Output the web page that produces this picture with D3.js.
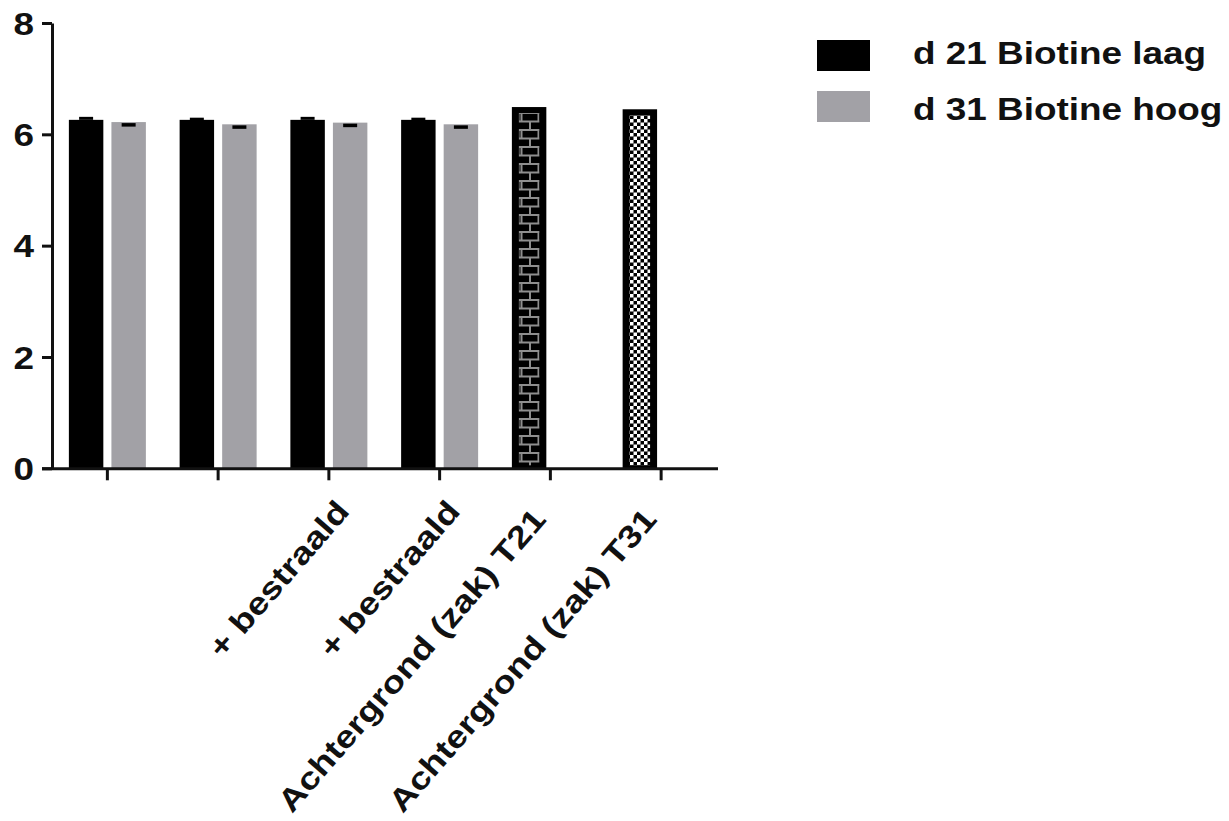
<!DOCTYPE html>
<html>
<head>
<meta charset="utf-8">
<script src="https://cdn.jsdelivr.net/npm/d3@7"></script>
<style>
  html, body { margin: 0; padding: 0; background: #fff; }
  svg text { font-family: "Liberation Sans", Arial, Helvetica, sans-serif; font-weight: bold; fill: #111; }
</style>
</head>
<body>
<svg id="chart" width="1229" height="821"></svg>
<script>
// Category labels (first two groups carry no label)
const categories = ["", "", "+ bestraald", "+ bestraald", "Achtergrond (zak) T21", "Achtergrond (zak) T31"];
const seriesNames = ["d 21 Biotine laag", "d 31 Biotine hoog"];
const seriesColors = ["#000000", "#a2a1a6"];

// Means
const laag = [6.26, 6.26, 6.26, 6.26, 6.49, 6.45];
const hoog = [6.22, 6.18, 6.21, 6.18, null, null];
// Error (SD)
const laagErr = [0.027, 0.012, 0.027, 0.012, 0, 0];
const hoogErr = [0.05, 0.05, 0.05, 0.05, 0, 0];
// Fill style of the first-series bar per group
const laagFill = ["solid", "solid", "solid", "solid", "brick", "checker"];

const yTicks = [0, 2, 4, 6, 8];

const svg = d3.select("#chart");
const textScale = 1.19;

const y = d3.scaleLinear().domain([0, 8]).range([468.3, 23]);
const x = d3.scaleBand().domain(d3.range(categories.length)).range([52, 716.5]).padding(0);
const xs = d3.scaleBand().domain([0, 1]).range([-38.5, 38.5]).paddingInner(0.19);

// Fill patterns for the background bars
const defs = svg.append("defs");
const brick = defs.append("pattern").attr("id", "brick")
  .attr("patternUnits", "userSpaceOnUse").attr("width", 20).attr("height", 17);
brick.append("rect").attr("width", 20).attr("height", 17).attr("fill", "#000");
const bp = brick.append("g").attr("stroke", "#8e8e8e").attr("stroke-width", 2).attr("fill", "none");
bp.append("path").attr("d", "M0,2.5H20M0,11H20");
bp.append("path").attr("d", "M10,2.5V11M1.5,11V19.5M18.5,11V19.5M1.5,-6V2.5M18.5,-6V2.5");

const checker = defs.append("pattern").attr("id", "checker")
  .attr("patternUnits", "userSpaceOnUse").attr("width", 7).attr("height", 7);
checker.append("rect").attr("width", 7).attr("height", 7).attr("fill", "#000");
checker.append("rect").attr("width", 3.5).attr("height", 3.5).attr("fill", "#fff");
checker.append("rect").attr("x", 3.5).attr("y", 3.5).attr("width", 3.5).attr("height", 3.5).attr("fill", "#fff");

// Bars
const rows = categories.map((c, i) => [
  { i, s: 0, v: laag[i], e: laagErr[i], fill: laagFill[i] },
  { i, s: 1, v: hoog[i], e: hoogErr[i], fill: "solid" }
]).flat().filter(d => d.v != null);

const barG = svg.append("g");
rows.forEach(d => {
  const bx = x(d.i) + x.bandwidth() / 2 + xs(d.s);
  const bw = xs.bandwidth();
  const top = y(d.v), bot = y(0);
  barG.append("rect").attr("x", bx).attr("y", top).attr("width", bw).attr("height", bot - top)
    .attr("fill", seriesColors[d.s]);
  if (d.fill !== "solid") {
    const ix = 7, it = 6, ib = 3;
    barG.append("rect").attr("x", bx + ix).attr("y", top + it)
      .attr("width", bw - 2 * ix).attr("height", bot - top - it - ib)
      .attr("fill", `url(#${d.fill})`);
  }
  if (d.e > 0) {
    const cx = bx + bw / 2;
    const cy = d.s === 0 ? y(d.v + d.e) : y(d.v - d.e);
    barG.append("line").attr("x1", cx - 7).attr("x2", cx + 7).attr("y1", cy).attr("y2", cy)
      .attr("stroke", "#000").attr("stroke-width", d.s === 0 ? 3 : 3.5);
  }
});

// Y axis
const yAxis = svg.append("g").attr("transform", "translate(52,0)")
  .call(d3.axisLeft(y).tickValues(yTicks).tickFormat(d3.format("d")).tickSize(10).tickSizeOuter(0).tickPadding(8));
yAxis.select(".domain").attr("stroke", "#111").attr("stroke-width", 3);
yAxis.selectAll(".tick line").attr("stroke", "#111").attr("stroke-width", 3);
yAxis.selectAll(".tick text").attr("font-size", 31).attr("dy", "0.36em")
  .attr("transform", `translate(-18,0) scale(${textScale},1) translate(18,0)`);

// X axis with rotated category labels
const labelOffset = i => categories[i].startsWith("Achtergrond") ? [-3, 52] : [22, 44];
const xAxis = svg.append("g").attr("transform", `translate(0,${y(0)})`)
  .call(d3.axisBottom(x).tickFormat(i => categories[i]).tickSize(12).tickSizeOuter(0));
xAxis.select(".domain").attr("stroke", "#111").attr("stroke-width", 3)
  .attr("d", `M42,0.5H718`);
xAxis.selectAll(".tick line").attr("stroke", "#111").attr("stroke-width", 3);
xAxis.selectAll(".tick text")
  .attr("font-size", 31).attr("text-anchor", "end").attr("x", 0).attr("y", 0).attr("dy", 0)
  .attr("transform", i => {
    const [ox, oy] = labelOffset(i);
    return `translate(${ox},${oy}) rotate(-49) scale(${textScale},1)`;
  });

// Legend
const legend = svg.append("g");
seriesNames.forEach((name, k) => {
  legend.append("rect").attr("x", 817).attr("y", 40 + k * 51).attr("width", 53).attr("height", 31)
    .attr("fill", seriesColors[k]);
  legend.append("text").attr("x", 0).attr("y", 0).attr("font-size", 31)
    .attr("transform", `translate(913,${64 + k * 56}) scale(${textScale},1)`)
    .text(name);
});
</script>
</body>
</html>
